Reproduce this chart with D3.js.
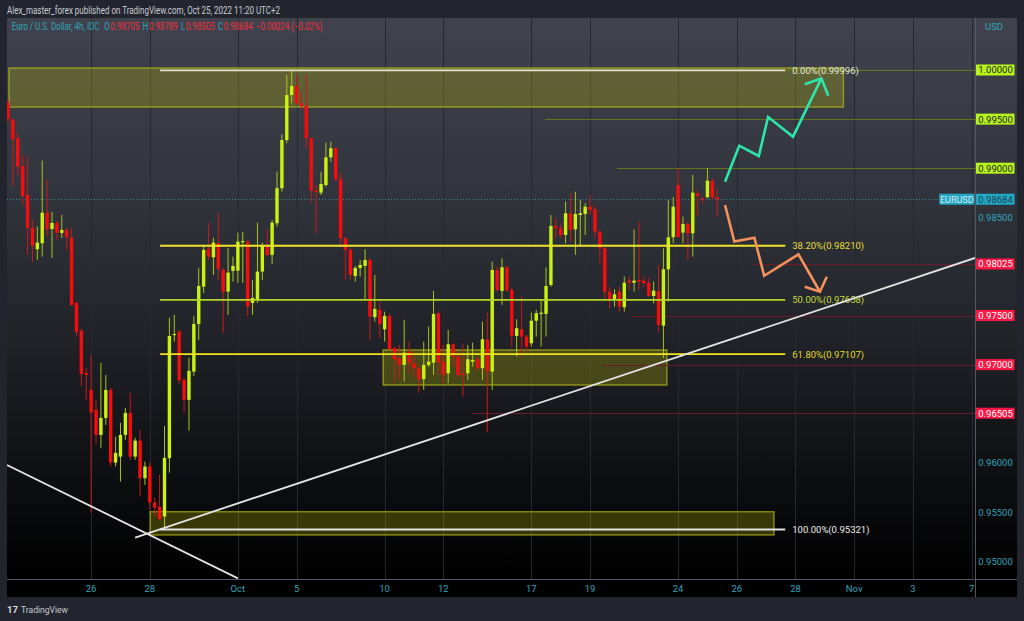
<!DOCTYPE html>
<html><head><meta charset="utf-8">
<script src="https://cdn.jsdelivr.net/npm/d3@7"></script>
<style>html,body{margin:0;padding:0;background:#22252e;overflow:hidden}svg{display:block}</style>
</head><body>
<svg id="c" width="1024" height="621"></svg>
<script>
// ---------------- DATA ----------------
const firstBarTime = "2022-09-21T04:00";   // first visible 4h candle
const opens  = [0.99667,0.99498,0.99308,0.99023,0.98727,0.98392,0.98175,0.98236,0.98547,0.98381,0.98442,0.98341,0.98371,0.98293,0.97628,0.97346,0.96915,
0.96742,0.96539,0.96284,0.96457,0.96742,0.96002,0.96063,0.96284,0.96508,0.96063,0.96226,0.95843,0.95962,0.95595,0.95554,0.95453,0.96047,0.97302,0.97336,0.96844,0.96641,0.96929,0.97414,0.97794,
0.98178,0.98093,0.98239,0.97964,0.97743,0.97954,0.97957,0.98249,0.98252,0.97628,0.97666,0.97947,0.98218,0.98117,0.98439,0.98796,0.99287,0.99745,0.99837,0.99661,0.99633,0.99305,0.98771,0.98751,
0.98829,0.99111,0.99203,0.98887,0.98287,0.98168,0.97903,0.97984,0.98005,0.98066,0.97483,0.97557,0.97360,0.97496,0.97167,0.97065,0.96997,0.97132,0.97014,0.96963,0.96851,0.96997,0.97020,0.97523,
0.97030,0.96912,0.97207,0.97081,0.96912,0.96912,0.97030,0.97055,0.96963,0.97258,0.96929,0.97964,0.97750,0.97991,0.97760,0.97292,0.97360,0.97285,0.97217,0.97447,0.97516,0.97516,0.97811,0.98412,
0.98388,0.98320,0.98541,0.98378,0.98524,0.98534,0.98608,0.98582,0.98353,0.98184,0.97743,0.97659,0.97743,0.97584,0.97855,0.97834,0.97862,0.97855,0.97834,0.97699,0.97750,0.97396,0.97971,0.98297,
0.98829,0.98344,0.98432,0.98337,0.98744,0.98691,0.98704,0.98873,0.98705];
const highs  = [0.99702,0.99501,0.99359,0.99135,0.99114,0.98473,0.98405,0.99077,0.98880,0.98554,0.98463,0.98524,0.98392,0.98392,0.97638,0.97363,0.96966,
0.97099,0.96641,0.97017,0.96895,0.96763,0.96267,0.96406,0.96559,0.96712,0.96254,0.96335,0.96012,0.96002,0.95643,0.95877,0.96376,0.97475,0.97506,0.97353,0.96865,0.97068,0.97496,0.97984,0.98218,
0.98445,0.98290,0.98544,0.97984,0.98188,0.98099,0.98344,0.98351,0.98269,0.97862,0.98445,0.98242,0.98378,0.98473,0.98965,0.99348,0.99949,0.99996,0.99949,0.99779,0.99949,0.99318,0.98829,0.98965,
0.99260,0.99270,0.99216,0.98948,0.98300,0.98188,0.98005,0.98066,0.98175,0.98086,0.97913,0.97641,0.97539,0.97516,0.97180,0.97200,0.97455,0.97234,0.97132,0.96997,0.97234,0.97387,0.97750,0.97546,
0.97200,0.97353,0.97220,0.97132,0.97217,0.97200,0.97223,0.97078,0.97438,0.97529,0.98048,0.97997,0.98083,0.98005,0.97780,0.97462,0.97692,0.97302,0.97529,0.97557,0.97659,0.97991,0.98524,0.98490,
0.98442,0.98659,0.98744,0.98761,0.98676,0.98643,0.98727,0.98615,0.98371,0.98198,0.97794,0.97767,0.97794,0.97896,0.97896,0.98378,0.98455,0.97896,0.97882,0.97845,0.98015,0.98184,0.98676,0.98707,
0.98999,0.98506,0.98463,0.98931,0.98778,0.98710,0.98999,0.98897,0.98789];
const lows   = [0.99471,0.98819,0.98931,0.98626,0.98117,0.98045,0.98066,0.98099,0.98303,0.98086,0.98269,0.98290,0.98168,0.97598,0.97285,0.96783,0.96641,
0.95490,0.96193,0.96152,0.96386,0.95962,0.95962,0.95809,0.96233,0.96030,0.96030,0.95656,0.95775,0.95521,0.95453,0.95419,0.95321,0.95900,0.97234,0.96803,0.96511,0.96328,0.96885,0.97251,0.97730,
0.98066,0.97913,0.97862,0.97323,0.97506,0.97845,0.97832,0.97832,0.97489,0.97506,0.97628,0.97862,0.98099,0.98025,0.98405,0.98761,0.99254,0.99661,0.99644,0.99593,0.99203,0.98649,0.98337,0.98727,
0.98812,0.99066,0.98863,0.98201,0.97862,0.97862,0.97845,0.97896,0.97659,0.97251,0.97438,0.97269,0.97234,0.97150,0.96810,0.96844,0.96827,0.96912,0.96878,0.96709,0.96742,0.96976,0.96895,0.96895,
0.96810,0.96810,0.96979,0.96861,0.96674,0.96844,0.96979,0.96929,0.96844,0.96314,0.96742,0.97743,0.97608,0.97743,0.97183,0.97081,0.97081,0.97132,0.97183,0.97285,0.97183,0.97285,0.97794,0.98287,
0.98287,0.98236,0.98252,0.98117,0.98218,0.98320,0.98524,0.98290,0.98032,0.97659,0.97574,0.97590,0.97539,0.97539,0.97760,0.97743,0.97760,0.97794,0.97692,0.97624,0.97336,0.97068,0.97641,0.98236,
0.98290,0.98236,0.98066,0.98099,0.98524,0.98643,0.98694,0.98676,0.98505];
const closes = [0.99498,0.99295,0.99016,0.98717,0.98392,0.98208,0.98242,0.98547,0.98378,0.98442,0.98341,0.98371,0.98297,0.97608,0.97336,0.96905,0.96895,
0.96511,0.96284,0.96457,0.96742,0.96002,0.96101,0.96284,0.96508,0.96063,0.96226,0.95843,0.95962,0.95595,0.95544,0.95426,0.96050,0.97292,0.97312,0.96837,0.96641,0.96936,0.97414,0.97801,0.98168,
0.98099,0.98242,0.97974,0.97743,0.97937,0.98005,0.98252,0.98259,0.97590,0.97679,0.97947,0.98218,0.98117,0.98445,0.98796,0.99287,0.99745,0.99837,0.99661,0.99633,0.99305,0.98771,0.98758,0.98839,
0.99111,0.99203,0.98887,0.98287,0.98168,0.97913,0.97984,0.98015,0.98066,0.97489,0.97567,0.97414,0.97496,0.97157,0.97055,0.96997,0.97122,0.97014,0.96963,0.96851,0.96997,0.97030,0.97516,0.97020,
0.96895,0.97207,0.97081,0.96895,0.96895,0.97055,0.97048,0.96963,0.97258,0.96929,0.97964,0.97760,0.97991,0.97753,0.97292,0.97370,0.97285,0.97183,0.97447,0.97523,0.97529,0.97801,0.98412,0.98388,
0.98320,0.98541,0.98371,0.98534,0.98541,0.98608,0.98574,0.98353,0.98184,0.97743,0.97659,0.97716,0.97590,0.97834,0.97834,0.97855,0.97845,0.97828,0.97699,0.97753,0.97404,0.97971,0.98297,0.98608,
0.98297,0.98432,0.98337,0.98751,0.98717,0.98681,0.98873,0.98704,0.98684];

const tickDates  = ["2022-09-26T00:00","2022-09-28T00:00","2022-10-03T00:00","2022-10-05T00:00","2022-10-10T00:00","2022-10-12T00:00","2022-10-17T00:00","2022-10-19T00:00","2022-10-24T00:00","2022-10-26T00:00","2022-10-28T00:00","2022-11-01T00:00","2022-11-03T00:00","2022-11-07T00:00"];
const tickLabels = ["26","28","Oct","5","10","12","17","19","24","26","28","Nov","3","7"];
const priceTicks = [1.0,0.995,0.99,0.985,0.98,0.975,0.97,0.965,0.96,0.955,0.95];

// horizontal level drawings (price, first bar)
const limeLevels = [1.0,0.995,0.99];
const limeFrom   = [140,92.8,107.5];
const redLevels  = [0.98025,0.975,0.97,0.96505];
const redFrom    = [135.3,110.6,104.6,77.9];

// fibonacci retracement
const fibHigh = 0.99996, fibLow = 0.95321;
const fibRatios = [0,0.382,0.5,0.618,1];
const fibFrom = 14.1, fibTo = 141.9;

// zones [barFrom, barTo], [priceTop, priceBottom]
const zoneBars   = [[-16.8,153.8],[59.7,117.7],[12.05,139.6]];
const zonePrices = [[1.0002,0.99623],[0.97149,0.96792],[0.95502,0.95265]];

// trend lines [bar, price]
const risingLine  = [[9,0.95239],[180.7,0.98086]];
const fallingLine = [[-17.2,0.95978],[30.0,0.94823]];

// forecast arrows [bar, price]
const greenPath = [[129.6,0.98863],[132.5,0.99229],[136.5,0.99124],[138.4,0.99521],[143.5,0.99321],[149.3,0.99915]];
const greenHead = [[145.9,0.99854],[149.3,0.99915],[150.7,0.99738]];
const orangePath = [[129.6,0.98625],[131.5,0.98254],[135.6,0.98292],[137.6,0.97905],[144.6,0.98123],[149.0,0.97742]];
const orangeHead = [[145.9,0.97793],[149.0,0.97742],[150.4,0.97895]];

const headerText = "Alex_master_forex published on TradingView.com, Oct 25, 2022 11:20 UTC+2";
const symbolName = "Euro / U.S. Dollar, 4h, IDC";
const lastChange = "−0.00024 (−0.02%)";

// ---------------- HELPERS ----------------
function tradingBar(s){
  const d = new Date(s + "Z");
  const base = Date.UTC(2022,8,26), dayMs = 86400000;
  const dayStart = Date.UTC(d.getUTCFullYear(), d.getUTCMonth(), d.getUTCDate());
  let n = 0;
  if (dayStart >= base) { for (let t = base; t < dayStart; t += dayMs){ const w = new Date(t).getUTCDay(); if (w!==0 && w!==6) n++; } }
  else { for (let t = dayStart; t < base; t += dayMs){ const w = new Date(t).getUTCDay(); if (w!==0 && w!==6) n--; } }
  return n*6 + d.getUTCHours()/4;
}
const fmt = d3.format(".5f");
const fmtFib = v => (Math.round((v - 1e-9)*1e5)/1e5).toFixed(5);

// ---------------- LAYOUT ----------------
const svg = d3.select("#c");
const pane = {x0:7, x1:975, y0:18, y1:579};
const axisR = 1017, timeB = 597;
const xs = d3.scaleLinear().domain([-17.2,180.7]).range([pane.x0, pane.x1]);
const ys = d3.scaleLinear().domain([0.95,1.0]).range([561,70]);
const FONT = "Roboto, 'Noto Sans', sans-serif";
const TEAL = "#2fa3ba", RED = "#f0303e";

const defs = svg.append("defs");
const gr = defs.append("linearGradient").attr("id","bg").attr("gradientUnits","userSpaceOnUse")
  .attr("x1",0).attr("y1",pane.y0).attr("x2",0).attr("y2",pane.y1);
[[0,"#40434d"],[0.3,"#33353e"],[0.55,"#22242a"],[0.8,"#0f1013"],[1,"#000000"]]
  .forEach(s=>gr.append("stop").attr("offset",s[0]).attr("stop-color",s[1]));
defs.append("clipPath").attr("id","clip").append("rect")
  .attr("x",pane.x0).attr("y",pane.y0).attr("width",pane.x1-pane.x0).attr("height",pane.y1-pane.y0);

svg.append("rect").attr("width",1024).attr("height",621).attr("fill","#22252e");
svg.append("rect").attr("x",pane.x0).attr("y",pane.y0).attr("width",axisR-pane.x0).attr("height",pane.y1-pane.y0).attr("fill","url(#bg)");
svg.append("rect").attr("x",pane.x0).attr("y",pane.y1).attr("width",axisR-pane.x0).attr("height",timeB-pane.y1).attr("fill","#000");

// vertical grid
const tickBars = tickDates.map(tradingBar);
svg.append("g").selectAll("line").data(tickBars).join("line")
  .attr("x1",d=>Math.round(xs(d))+0.5).attr("x2",d=>Math.round(xs(d))+0.5)
  .attr("y1",pane.y0).attr("y2",pane.y1).attr("stroke","#26282f").attr("stroke-width",1);

// borders
svg.append("line").attr("x1",pane.x1+0.5).attr("x2",pane.x1+0.5).attr("y1",pane.y0).attr("y2",timeB).attr("stroke","#555862");
svg.append("line").attr("x1",pane.x0).attr("x2",axisR).attr("y1",pane.y1+0.5).attr("y2",pane.y1+0.5).attr("stroke","#555862");

const g = svg.append("g").attr("clip-path","url(#clip)");

// zones
g.append("g").selectAll("rect").data(zoneBars.map((b,i)=>({b, p:zonePrices[i]}))).join("rect")
  .attr("x",d=>xs(d.b[0])).attr("width",d=>xs(d.b[1])-xs(d.b[0]))
  .attr("y",d=>ys(d.p[0])).attr("height",d=>ys(d.p[1])-ys(d.p[0]))
  .attr("fill","rgba(205,205,0,0.25)").attr("stroke","rgba(200,200,20,0.6)").attr("stroke-width",1.5);

// current price dotted line
const last = closes[closes.length-1];
g.append("line").attr("x1",pane.x0).attr("x2",939).attr("y1",Math.round(ys(last))+0.5).attr("y2",Math.round(ys(last))+0.5)
  .attr("stroke","#2b8fa2").attr("stroke-dasharray","1,2");

// level lines
g.append("g").selectAll("line").data(limeLevels.map((p,i)=>({p,f:limeFrom[i]}))).join("line")
  .attr("x1",d=>xs(d.f)).attr("x2",pane.x1).attr("y1",d=>Math.round(ys(d.p))+0.5).attr("y2",d=>Math.round(ys(d.p))+0.5)
  .attr("stroke","#63731a").attr("stroke-width",1.2);
g.append("g").selectAll("line").data(redLevels.map((p,i)=>({p,f:redFrom[i]}))).join("line")
  .attr("x1",d=>xs(d.f)).attr("x2",pane.x1).attr("y1",d=>Math.round(ys(d.p))+0.5).attr("y2",d=>Math.round(ys(d.p))+0.5)
  .attr("stroke","#6e1a28").attr("stroke-width",1.2);

// candles
const firstBar = tradingBar(firstBarTime);
const candles = opens.map((o,i)=>({bar:firstBar+i, o, h:highs[i], l:lows[i], c:closes[i]}));
const UP="#cbf20e", DN="#f50d0d", UPW="#a9c31c", DNW="#c8191c";
g.append("g").selectAll("line").data(candles).join("line")
  .attr("x1",d=>xs(d.bar)).attr("x2",d=>xs(d.bar)).attr("y1",d=>ys(d.h)).attr("y2",d=>ys(d.l))
  .attr("stroke",d=>d.c>=d.o?UPW:DNW).attr("stroke-width",1);
g.append("g").selectAll("rect").data(candles).join("rect")
  .attr("x",d=>xs(d.bar)-1.7).attr("width",3.4)
  .attr("y",d=>ys(Math.max(d.o,d.c)))
  .attr("height",d=>Math.max(1.2, Math.abs(ys(d.o)-ys(d.c))))
  .attr("fill",d=>d.c>=d.o?UP:DN);

// fib
const fibColors = ["#e6e4c6","#efe52a","#b7d52c","#f2e41e","#e2e2e2"];
const fibText   = ["#e8e8dc","#e6de34","#c2dc3a","#e2d82a","#ececec"];
const fibs = fibRatios.map((r,i)=>({r, p: fibHigh + (fibLow-fibHigh)*r, c:fibColors[i], t:fibText[i]}));
g.append("g").selectAll("line").data(fibs).join("line")
  .attr("x1",xs(fibFrom)).attr("x2",xs(fibTo)).attr("y1",d=>ys(d.p)).attr("y2",d=>ys(d.p))
  .attr("stroke",d=>d.c).attr("stroke-width",1.8);
g.append("g").selectAll("text").data(fibs).join("text")
  .attr("x",xs(fibTo)+7).attr("y",d=>ys(d.p)+3.5)
  .attr("fill",d=>d.t).attr("font-family",FONT).attr("font-size",9.5)
  .text(d=>d3.format(".2f")(d.r*100)+"%("+fmtFib(d.p)+")");

// trend lines
const line = d3.line().x(d=>xs(d[0])).y(d=>ys(d[1]));
g.append("path").attr("d",line(risingLine)).attr("stroke","#e4e4e4").attr("stroke-width",1.8).attr("fill","none");
g.append("path").attr("d",line(fallingLine)).attr("stroke","#e4e4e4").attr("stroke-width",1.8).attr("fill","none");

// arrows
[[greenPath,greenHead,"#2ee6ac"],[orangePath,orangeHead,"#f4915c"]].forEach(([p,h,c])=>{
  g.append("path").attr("d",line(p)).attr("stroke",c).attr("stroke-width",2.6).attr("fill","none").attr("stroke-linejoin","miter");
  g.append("path").attr("d",line(h)).attr("stroke",c).attr("stroke-width",2.6).attr("fill","none").attr("stroke-linejoin","miter");
});

// ---------------- PRICE AXIS ----------------
const boxes = [];
limeLevels.forEach(p=>boxes.push({p, bg:"#b8f31a", fg:"#1b1e25"}));
redLevels.forEach(p=>boxes.push({p, bg:"#ff1744", fg:"#ffffff"}));
boxes.push({p:last, bg:"#22a7c4", fg:"#1d3f4b"});
const plain = priceTicks.filter(t=>boxes.every(b=>Math.abs(ys(b.p)-ys(t))>9));
const ax = svg.append("g").attr("transform",`translate(${pane.x1},0)`)
  .call(d3.axisRight(ys).tickValues(plain).tickSize(0).tickPadding(0).tickFormat(fmt));
ax.select(".domain").remove();
ax.selectAll("text").attr("x",20.5).attr("text-anchor","middle").attr("fill",TEAL)
  .attr("font-family",FONT).attr("font-size",9.5).attr("dy","0.33em");

const bx = svg.append("g").selectAll("g").data(boxes).join("g");
bx.append("rect").attr("x",pane.x1+1).attr("width",38.5).attr("y",d=>ys(d.p)-5.5).attr("height",11).attr("fill",d=>d.bg);
bx.append("text").attr("x",pane.x1+20.5).attr("y",d=>ys(d.p)+3.4).attr("text-anchor","middle")
  .attr("fill",d=>d.fg).attr("font-family",FONT).attr("font-size",9.5).text(d=>fmt(d.p));
// symbol tag
svg.append("rect").attr("x",939.3).attr("width",35.2).attr("y",ys(last)-5.5).attr("height",11).attr("fill","#22a7c4");
svg.append("text").attr("x",956.8).attr("y",ys(last)+3.4).attr("text-anchor","middle").attr("fill","#d8e9ee")
  .attr("font-family",FONT).attr("font-size",9).text("EURUSD");
svg.append("text").attr("x",985).attr("y",30).attr("fill",TEAL).attr("font-family",FONT).attr("font-size",9.5).text("USD");

// ---------------- TIME AXIS ----------------
svg.append("g").selectAll("text").data(tickBars).join("text")
  .attr("x",d=>xs(d)).attr("y",591.5).attr("text-anchor","middle").attr("fill",TEAL)
  .attr("font-family",FONT).attr("font-size",9.5).text((d,i)=>tickLabels[i]);

// ---------------- HEADER / LEGEND / FOOTER ----------------
svg.append("text").attr("x",7).attr("y",13.5).attr("fill","#c9ccd3").attr("font-family",FONT).attr("font-size",10.5)
  .attr("textLength",273).attr("lengthAdjust","spacingAndGlyphs").text(headerText);

// legend: lay pieces out at natural width, then squeeze the whole group horizontally
const L = closes.length-1;
const parts = [[symbolName,TEAL,6],["O",TEAL,1],[fmt(opens[L]),RED,4],["H",TEAL,1],[fmt(highs[L]),RED,4],
  ["L",TEAL,1],[fmt(lows[L]),RED,4],["C",TEAL,1],[fmt(closes[L]),RED,4],[lastChange,RED,0]];
const lgG = svg.append("g");
const nodes = parts.map(p=>lgG.append("text").attr("y",0).attr("font-family",FONT).attr("font-size",10.5).attr("fill",p[1]).text(p[0]));
let cx = 0;
nodes.forEach((n,i)=>{ n.attr("x",cx); cx += n.node().getComputedTextLength() + parts[i][2]; });
lgG.attr("transform",`translate(11.7,30) scale(${311/cx},1)`);

svg.append("text").attr("x",7).attr("y",613).attr("fill","#d6d8de").attr("font-family",FONT).attr("font-size",9.5)
  .attr("font-weight","bold").text("17");
svg.append("text").attr("x",21).attr("y",613).attr("fill","#c7cad1").attr("font-family",FONT).attr("font-size",9.5)
  .attr("textLength",47).attr("lengthAdjust","spacingAndGlyphs").text("TradingView");
</script>
</body></html>
